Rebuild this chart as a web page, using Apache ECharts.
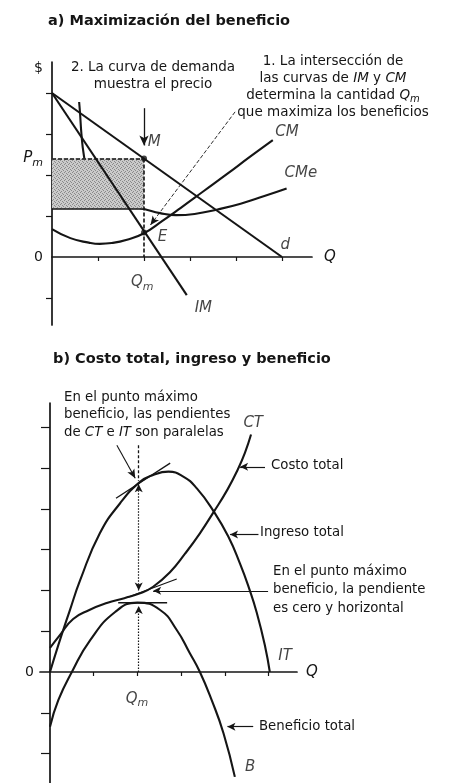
<!DOCTYPE html>
<html>
<head>
<meta charset="utf-8">
<script src="https://cdn.jsdelivr.net/npm/echarts@6/dist/echarts.min.js"></script>
<style>
html,body{margin:0;padding:0;background:#ffffff;}
#c{width:455px;height:783px;}
</style>
</head>
<body>
<div id="c"></div>
<script>
// ---------- Panel a: Maximización del beneficio ----------
const qDemand = [0, 5];
const pDemand = [4, 0];
const qIM = [0, 2.93];
const pIM = [4, -0.93];
const qCM = [0, 0.4, 0.8, 1.04, 1.3, 1.63, 2.0, 2.4, 2.8, 3.3, 3.8, 4.3, 4.8];
const pCM = [0.68, 0.46, 0.35, 0.32, 0.34, 0.42, 0.58, 0.88, 1.2, 1.61, 2.02, 2.44, 2.85];
const qCMe = [0.59, 0.61, 0.64, 0.69, 0.76, 0.9, 1.1, 1.4, 1.7, 2.0, 2.35, 2.7, 3.1, 3.6, 4.1, 4.6, 5.1];
const pCMe = [3.78, 3.5, 3.0, 2.5, 2.15, 1.8, 1.55, 1.35, 1.24, 1.17, 1.07, 1.02, 1.05, 1.16, 1.3, 1.48, 1.67];
const Qm = 2;          // cantidad óptima
const Pm = 2.4;        // precio
const cmeAtQm = 1.17;  // costo medio en Qm
const pE = 0.6;        // IM = CM
const xTicksA = [1, 2, 3, 4, 5];
const yTicksA = [-1, 1, 2, 3, 4];

// ---------- Panel b: Costo total, ingreso y beneficio ----------
const qIT = [0, 0.19, 0.45, 0.69, 1.14, 1.6, 2.06, 2.36, 2.71, 3.05, 3.36, 3.75, 4.08, 4.35, 4.55, 4.73, 4.92, 5.03];
const vIT = [0, 0.66, 1.5, 2.25, 3.4, 4.13, 4.66, 4.83, 4.91, 4.79, 4.5, 3.93, 3.32, 2.65, 2.07, 1.46, 0.64, 0];
const qCT = [0, 0.23, 0.53, 0.9, 1.3, 1.7, 2.06, 2.36, 2.75, 3.09, 3.43, 3.75, 4.06, 4.3, 4.46, 4.6];
const vCT = [0.59, 0.91, 1.3, 1.52, 1.69, 1.81, 1.93, 2.09, 2.45, 2.9, 3.4, 3.93, 4.47, 4.97, 5.37, 5.82];
const qB = [0, 0.19, 0.5, 0.92, 1.49, 2.0, 2.52, 2.9, 3.2, 3.43, 3.7, 3.97, 4.23];
const vB = [-1.34, -0.69, 0, 0.78, 1.47, 1.7, 1.52, 1.03, 0.46, 0, -0.69, -1.5, -2.57];
const QmB = 2.03;
const tanIT = [[1.51, 4.26], [2.75, 5.12]];
const tanCT = [[1.75, 1.82], [2.9, 2.28]];
const tanB = [[1.56, 1.7], [2.68, 1.7]];
const xTicksB = [1, 2, 3, 4, 5];
const yTicksB = [-2, -1, 1, 2, 3, 4, 5, 6];

// ---------- texts ----------
const titleA = 'a) Maximización del beneficio';
const titleB = 'b) Costo total, ingreso y beneficio';
const INK = '#151515';
const FONT = '"DejaVu Sans", "Liberation Sans", sans-serif';

const zip = (xs, ys) => xs.map((x, i) => [x, ys[i]]);

// stipple texture for the profit rectangle (regular pattern)
const tex = document.createElement('canvas');
tex.width = 4; tex.height = 4;
(function () {
  const g = tex.getContext('2d');
  g.fillStyle = '#cbcbcb'; g.fillRect(0, 0, 4, 4);
  g.fillStyle = '#8a8a8a';
  [[0, 0], [2, 1], [1, 3], [3, 2]].forEach(p => g.fillRect(p[0], p[1], 1, 1));
})();

const subRich = {
  q: {fontFamily: FONT, fontStyle: 'italic', fontSize: 15, color: INK},
  s: {fontFamily: FONT, fontStyle: 'italic', fontSize: 11, color: INK, padding: [9, 0, 0, 0]},
  n: {fontFamily: FONT, fontSize: 14, color: INK}
};

function seg(p1, p2, o) {
  o = o || {};
  return [
    {coord: p1, symbol: o.s0 || 'none', symbolSize: o.size || [7, 10],
     lineStyle: {color: INK, width: o.w || 1.2, type: o.type || 'solid'}},
    {coord: p2, symbol: o.s1 || 'none', symbolSize: o.size || [7, 10]}
  ];
}

function curve(name, data, xi, smooth, z, w) {
  return {
    name, type: 'line', xAxisIndex: xi, yAxisIndex: xi, data,
    showSymbol: false, symbol: 'none', smooth: smooth ? 0.5 : false,
    silent: true, z: z || 3,
    lineStyle: {color: INK, width: w || 2.1}
  };
}

function labelSeries(xi, items) {
  return {
    type: 'scatter', xAxisIndex: xi, yAxisIndex: xi, silent: true, clip: false, z: 6,
    symbolSize: 1, itemStyle: {color: 'rgba(0,0,0,0)'},
    data: items.map(t => ({value: [t[1], t[2]], t: t[0]})),
    label: {show: true, position: 'inside', formatter: p => p.data.t,
            fontFamily: FONT, fontStyle: 'italic', fontSize: 15, color: INK,
            textBorderWidth: 0, textBorderColor: 'transparent', rich: subRich}
  };
}

// anchor points of curve names (axis units)
const labelAnchorsA = [['M', 2.22, 2.8], ['E', 2.4, 0.49], ['CM', 5.11, 3.05], ['CMe', 5.41, 2.05],
  ['d', 5.07, 0.28], ['IM', 3.29, -1.25], ['{q|Q}{s|m}', 1.96, -0.62]];
const labelAnchorsB = [['CT', 4.65, 6.11], ['IT', 5.38, 0.4], ['B', 4.58, -2.32], ['{q|Q}{s|m}', 1.99, -0.66]];

const axisLineStyle = {color: INK, width: 1.7};

const option = {
  animation: false,
  backgroundColor: '#ffffff',
  grid: [
    {left: 52, top: 62, width: 260, height: 263, outerBoundsMode: 'none', containLabel: false},
    {left: 40, top: 403, width: 257, height: 380, outerBoundsMode: 'none', containLabel: false}
  ],
  xAxis: [
    {gridIndex: 0, type: 'value', min: 0, max: 5.652,
     axisLine: {onZero: true, lineStyle: axisLineStyle},
     axisTick: {show: true, customValues: xTicksA, length: 4, lineStyle: {color: INK, width: 1.2}},
     axisLabel: {show: false},
     splitLine: {show: false},
     name: 'Q', nameLocation: 'end', nameGap: 12,
     nameTextStyle: {fontFamily: FONT, fontStyle: 'italic', fontSize: 15, color: INK}},
    {gridIndex: 1, type: 'value', min: -0.229, max: 5.652,
     axisLine: {onZero: true, lineStyle: axisLineStyle},
     axisTick: {show: true, customValues: xTicksB, length: 4, lineStyle: {color: INK, width: 1.2}},
     axisLabel: {show: false},
     splitLine: {show: false},
     name: 'Q', nameLocation: 'end', nameGap: 9,
     nameTextStyle: {fontFamily: FONT, fontStyle: 'italic', fontSize: 15, color: INK}}
  ],
  yAxis: [
    {gridIndex: 0, type: 'value', min: -1.659, max: 4.756,
     axisLine: {onZero: true, lineStyle: axisLineStyle},
     axisTick: {show: true, customValues: yTicksA, length: 6, lineStyle: {color: INK, width: 1.2}},
     axisLabel: {show: true, customValues: [0, Pm, 4.6], margin: 9,
       formatter: v => v === 0 ? '{n|0}' : (v === Pm ? '{q|P}{s|m}' : '{n|$}'),
       rich: subRich},
     splitLine: {show: false}},
    {gridIndex: 1, type: 'value', min: -2.72, max: 6.593,
     axisLine: {onZero: true, lineStyle: axisLineStyle},
     axisTick: {show: true, customValues: yTicksB, length: 9, lineStyle: {color: INK, width: 1.2}},
     axisLabel: {show: true, customValues: [0], margin: 6, formatter: () => '0',
       fontFamily: FONT, fontSize: 14, color: INK},
     splitLine: {show: false}}
  ],
  graphic: [
    {type: 'text', x: 48, y: 21, style: {text: titleA, fontFamily: FONT, fontWeight: 'bold', fontSize: 14.5, fill: INK, align: 'left', verticalAlign: 'middle'}},
    {type: 'text', x: 53, y: 359, style: {text: titleB, fontFamily: FONT, fontWeight: 'bold', fontSize: 14.5, fill: INK, align: 'left', verticalAlign: 'middle'}},
    {type: 'text', x: 153, y: 76, style: {text: '2. La curva de demanda\nmuestra el precio', fontFamily: FONT, fontSize: 13.5, lineHeight: 17, fill: INK, align: 'center', verticalAlign: 'middle'}},
    {type: 'text', x: 333, y: 87, style: {
      text: '{n|1. La intersección de}\n{n|las curvas de }{i|IM}{n| y }{i|CM}\n{n|determina la cantidad }{i|Q}{s|m}\n{n|que maximiza los beneficios}',
      rich: {
        n: {fontFamily: FONT, fontSize: 13.5, lineHeight: 17.3, fill: INK},
        i: {fontFamily: FONT, fontSize: 13.5, fontStyle: 'italic', lineHeight: 17.3, fill: INK},
        s: {fontFamily: FONT, fontSize: 10, fontStyle: 'italic', lineHeight: 17.3, fill: INK, padding: [8, 0, 0, 0]}
      },
      align: 'center', verticalAlign: 'middle'}},
    {type: 'text', x: 64, y: 415, style: {
      text: '{n|En el punto máximo}\n{n|beneficio, las pendientes}\n{n|de }{i|CT}{n| e }{i|IT}{n| son paralelas}',
      rich: {
        n: {fontFamily: FONT, fontSize: 13.3, lineHeight: 17.6, fill: INK},
        i: {fontFamily: FONT, fontSize: 13.3, fontStyle: 'italic', lineHeight: 17.6, fill: INK}
      },
      align: 'left', verticalAlign: 'middle'}},
    {type: 'text', x: 271, y: 466, style: {text: 'Costo total', fontFamily: FONT, fontSize: 13.3, fill: INK, align: 'left', verticalAlign: 'middle'}},
    {type: 'text', x: 260, y: 533, style: {text: 'Ingreso total', fontFamily: FONT, fontSize: 13.3, fill: INK, align: 'left', verticalAlign: 'middle'}},
    {type: 'text', x: 273, y: 590, style: {text: 'En el punto máximo\nbeneficio, la pendiente\nes cero y horizontal', fontFamily: FONT, fontSize: 13.3, lineHeight: 18.3, fill: INK, align: 'left', verticalAlign: 'middle'}},
    {type: 'text', x: 259, y: 727, style: {text: 'Beneficio total', fontFamily: FONT, fontSize: 13.3, fill: INK, align: 'left', verticalAlign: 'middle'}}
  ],
  series: [
    // panel a
    curve('CMe', zip(qCMe, pCMe), 0, true, 1),
    {type: 'custom', xAxisIndex: 0, yAxisIndex: 0, silent: true, z: 2,
     data: [[0, Pm, Qm, cmeAtQm]],
     renderItem: (params, api) => {
       const a = api.coord([api.value(0), api.value(1)]);
       const b = api.coord([api.value(2), api.value(3)]);
       return {type: 'rect', shape: {x: a[0], y: a[1], width: b[0] - a[0], height: b[1] - a[1]},
               style: {fill: {image: tex, repeat: 'repeat'}}};
     }},
    curve('d', zip(qDemand, pDemand), 0, false, 3),
    curve('IM', zip(qIM, pIM), 0, false, 3),
    curve('CM', zip(qCM, pCM), 0, true, 3),
    {type: 'line', xAxisIndex: 0, yAxisIndex: 0, data: [], silent: true, z: 4,
     markLine: {silent: true, animation: false, label: {show: false}, emphasis: {disabled: true},
       data: [
         seg([0, Pm], [Qm, Pm], {type: [4, 2], w: 1.6}),
         seg([Qm, Pm], [Qm, 0], {type: [4, 2], w: 1.6}),
         seg([0, cmeAtQm], [Qm, cmeAtQm], {w: 1.6}),
         seg([Qm, 3.63], [Qm, 2.72], {s1: 'arrow', w: 1.3}),
         seg([3.98, 3.54], [2.14, 0.78], {s1: 'arrow', type: [4, 2], w: 0.9, size: [6, 9]}),
         seg([Qm, -1.66], [Qm, -0.78], {s1: 'arrow', w: 1.3})
       ]}},
    {type: 'scatter', xAxisIndex: 0, yAxisIndex: 0, silent: true, z: 5, symbolSize: 6,
     itemStyle: {color: INK}, data: [[Qm, Pm], [Qm, pE]]},
    labelSeries(0, labelAnchorsA),
    // panel b
    curve('IT', zip(qIT, vIT), 1, true, 3),
    curve('CT', zip(qCT, vCT), 1, true, 3),
    curve('B', zip(qB, vB), 1, true, 3),
    curve('tIT', tanIT, 1, false, 3, 1.3),
    curve('tCT', tanCT, 1, false, 3, 1.3),
    curve('tB', tanB, 1, false, 3, 1.5),
    {type: 'line', xAxisIndex: 1, yAxisIndex: 1, data: [], silent: true, z: 4,
     markLine: {silent: true, animation: false, label: {show: false}, emphasis: {disabled: true},
       data: [
         seg([QmB, 5.56], [QmB, 4.68], {type: [3, 2], w: 1.3}),
         seg([QmB, 4.6], [QmB, 2.0], {s0: 'arrow', s1: 'arrow', type: [1.5, 1.5], w: 1.2, size: [6, 8]}),
         seg([QmB, 0], [QmB, 1.62], {s1: 'arrow', type: [1.5, 1.5], w: 1.2, size: [6, 8]}),
         seg([1.53, 5.56], [1.95, 4.75], {s1: 'arrow', w: 1.1, size: [6, 9]}),
         seg([4.92, 5.03], [4.35, 5.03], {s1: 'arrow', w: 1.2, size: [6, 8]}),
         seg([4.77, 3.37], [4.12, 3.37], {s1: 'arrow', w: 1.2, size: [6, 8]}),
         seg([4.99, 1.99], [2.36, 1.99], {s1: 'arrow', w: 1.2, size: [6, 8]}),
         seg([4.65, -1.34], [4.06, -1.34], {s1: 'arrow', w: 1.2, size: [6, 8]})
       ]}},
    labelSeries(1, labelAnchorsB)
  ]
};

const chart = echarts.init(document.getElementById('c'), null, {renderer: 'canvas'});
chart.setOption(option);
</script>
</body>
</html>
